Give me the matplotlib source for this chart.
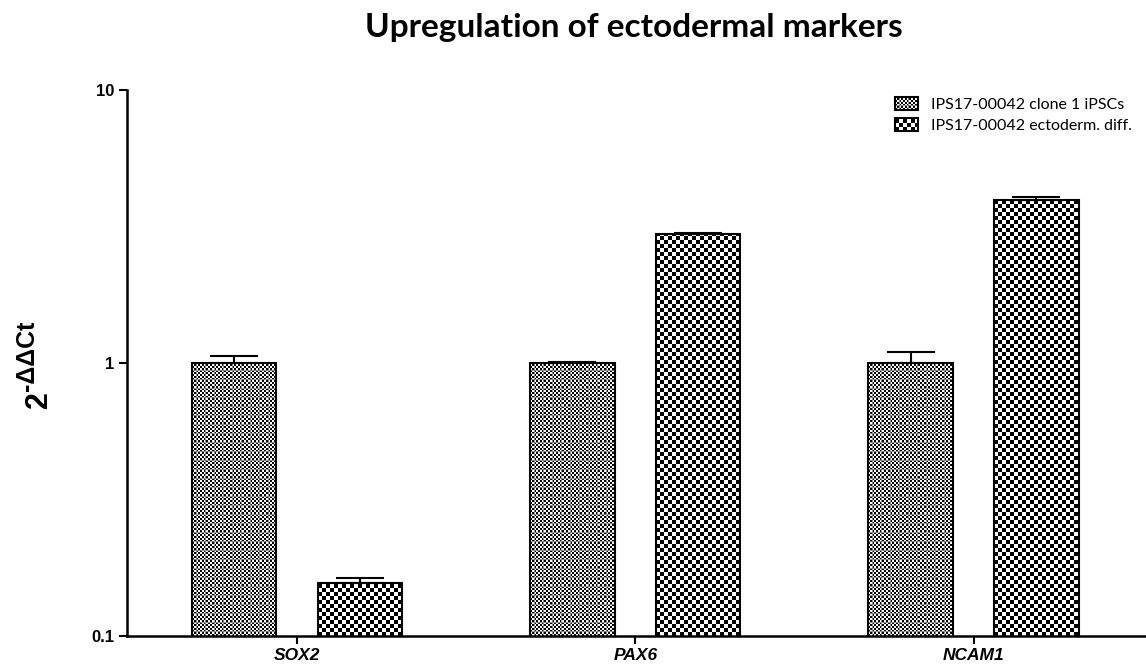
import numpy as np
import matplotlib
matplotlib.use("Agg")
import matplotlib.pyplot as plt
from matplotlib.patches import Patch

genes = ["SOX2", "PAX6", "NCAM1"]
series_names = ["IPS17-00042 clone 1 iPSCs", "IPS17-00042 ectoderm. diff."]
ipsc_vals = [1.0, 1.0, 1.0]
ipsc_err = [0.06, 0.01, 0.097]
ecto_vals = [0.156, 2.97, 3.95]
ecto_err = [0.007, 0.03, 0.12]
yticks = [0.1, 1, 10]
ytick_labels = ["0.1", "1", "10"]

W, H = 1146, 664
fig = plt.figure(figsize=(W / 100, H / 100), dpi=100)
fig.patch.set_facecolor("white")
ax = fig.add_axes([127 / W, (H - 636) / H, (W - 127) / W, (636 - 90) / H])
ax.patch.set_visible(False)

x = np.arange(len(genes))
width = 0.25
off = 0.186
bars1 = ax.bar(x - off, ipsc_vals, width, facecolor="none", edgecolor="black", linewidth=1.5, zorder=3)
bars2 = ax.bar(x + off, ecto_vals, width, facecolor="none", edgecolor="black", linewidth=1.5, zorder=3)
ekw = dict(fmt="none", ecolor="black", elinewidth=1.5, capsize=17, capthick=1.5, zorder=4)
ax.errorbar(x - off, ipsc_vals, yerr=[np.zeros(3), ipsc_err], **ekw)
ax.errorbar(x + off, ecto_vals, yerr=[np.zeros(3), ecto_err], **ekw)

ax.set_yscale("log")
ax.set_ylim(0.1, 10)
ax.set_xlim(-0.503, 2.51)
ax.set_yticks(yticks)
ax.set_yticklabels(ytick_labels, fontfamily="Liberation Sans", fontweight="bold", fontsize=12)
ax.yaxis.set_minor_locator(matplotlib.ticker.NullLocator())
ax.set_xticks(x)
ax.set_xticklabels(genes, fontfamily="Liberation Sans", fontweight="bold", fontstyle="italic", fontsize=12.5)
ax.tick_params(axis="both", direction="out", length=6, width=1.5, pad=3)
for s in ["top", "right"]:
    ax.spines[s].set_visible(False)
for s in ["left", "bottom"]:
    ax.spines[s].set_linewidth(1.8)

# y label: "2" with superscript "-ΔΔCt"
fig.text(47 / W, 1 - 408 / H, "2", rotation=90, rotation_mode="anchor", ha="left", va="baseline",
         fontfamily="Liberation Sans", fontweight="bold", fontsize=22)
fig.text(34 / W, 1 - 391 / H, "-ΔΔCt", rotation=90, rotation_mode="anchor", ha="left", va="baseline",
         fontfamily="Liberation Sans", fontweight="bold", fontsize=18)

fig.text(634 / W, 1 - 28 / H, "Upregulation of ectodermal markers",
         ha="center", va="center", fontfamily="Lato", fontweight="bold", fontsize=24)

handles = [Patch(facecolor="none", edgecolor="black", linewidth=1.5) for _ in series_names]
leg = ax.legend(handles, series_names, loc="upper left", bbox_to_anchor=(881 / W, 1 - 83 / H),
                bbox_transform=fig.transFigure, frameon=False, prop={"family": "Lato", "size": 11.5},
                handlelength=1.4, handleheight=0.85, handletextpad=0.8, labelspacing=0.35)


def checker_fine(h, w):
    yy, xx = np.mgrid[0:h, 0:w]
    img = (((yy // 2) + (xx // 2)) % 2).astype(float)
    img[:, (np.arange(w) % 9) == 4] = 0.55
    img[(np.arange(h) % 9) == 4, :] = 0.55
    return img


def checker_coarse(h, w):
    yy, xx = np.mgrid[0:h, 0:w]
    return (((yy // 4) + (xx // 4)) % 2).astype(float)


fig.canvas.draw()
axbb = ax.get_window_extent()


def fill(patch, fn, clip=True):
    bb = patch.get_window_extent()
    x0, y0, x1, y1 = bb.x0, bb.y0, bb.x1, bb.y1
    if clip:
        y0 = max(y0, axbb.y0)
        y1 = min(y1, axbb.y1)
    x0, y0 = int(round(x0)), int(round(y0))
    w, h = int(round(x1)) - x0, int(round(y1)) - y0
    if w > 0 and h > 0:
        fig.figimage(fn(h, w), xo=x0, yo=y0, cmap="gray", vmin=0, vmax=1, origin="lower", zorder=-1)


for b in bars1:
    fill(b, checker_fine)
for b in bars2:
    fill(b, checker_coarse)
lp = leg.get_patches()
fill(lp[0], checker_fine, clip=False)
fill(lp[1], checker_coarse, clip=False)

fig.savefig("out.png", dpi=100, facecolor="white")
